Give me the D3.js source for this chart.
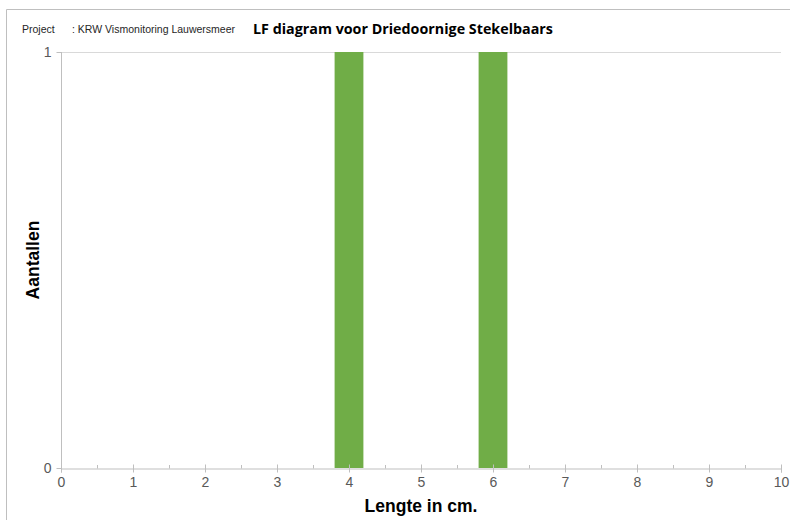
<!DOCTYPE html>
<html lang="nl">
<head>
<meta charset="UTF-8">
<title>LF diagram</title>
<script src="https://cdn.jsdelivr.net/npm/d3@7"></script>
<style>
    body { margin: 0; background: white; }
    svg { display: block; font-family: Arial, "Liberation Sans", sans-serif; }
    .tick text { fill: #595959; font-size: 14px; }
</style>
</head>
<body>
<svg id="chart" width="790" height="520"></svg>
<script>
// lengths (cm) and counts per length class
var lengths = [4, 6];
var counts = [1, 1];
var xTicks = [0, 1, 2, 3, 4, 5, 6, 7, 8, 9, 10];
var yTicks = [0, 1];

var svg = d3.select("#chart");
var plotLeft = 61, plotRight = 781, plotTop = 52, plotBottom = 468;

var x = d3.scaleLinear().domain([0, 10]).range([plotLeft, plotRight]);
var y = d3.scaleLinear().domain([0, 1]).range([plotBottom, plotTop]);
var barW = 0.4;

// outer frame (only top and left edges visible)
svg.append("path")
    .attr("d", "M6.5,520 L6.5,9.5 L790,9.5")
    .attr("fill", "none")
    .attr("stroke", "#bfbfbf")
    .attr("stroke-width", 1);

// gridline at max
svg.append("line")
    .attr("x1", plotLeft).attr("x2", plotRight)
    .attr("y1", y(1) + 0.5).attr("y2", y(1) + 0.5)
    .attr("stroke", "#d9d9d9");

// bars
svg.append("g").selectAll("rect")
    .data(lengths)
    .enter().append("rect")
    .attr("x", function(d) { return x(d - barW / 2); })
    .attr("width", function(d) { return x(d + barW / 2) - x(d - barW / 2); })
    .attr("y", function(d, i) { return y(counts[i]); })
    .attr("height", function(d, i) { return y(0) - y(counts[i]); })
    .attr("fill", "#70ad47");

// minor ticks at half units
var minor = d3.range(0.5, 10, 1);
svg.append("g").selectAll("line")
    .data(minor)
    .enter().append("line")
    .attr("x1", function(d) { return x(d) + 0.5; })
    .attr("x2", function(d) { return x(d) + 0.5; })
    .attr("y1", plotBottom - 3).attr("y2", plotBottom + 0.5)
    .attr("stroke", "#bfbfbf");

// x axis
var xAxis = svg.append("g")
    .attr("transform", "translate(0," + (plotBottom + 0.5) + ")")
    .call(d3.axisBottom(x).tickValues(xTicks).tickSize(4).tickPadding(5).tickFormat(d3.format("d")));
xAxis.select(".domain").attr("stroke", "#bfbfbf");
xAxis.selectAll(".tick line").attr("stroke", "#bfbfbf").attr("y1", -4);

// y axis
var yAxis = svg.append("g")
    .attr("transform", "translate(" + (plotLeft + 0.5) + ",0)")
    .call(d3.axisLeft(y).tickValues(yTicks).tickSize(5).tickPadding(5).tickFormat(d3.format("d")));
yAxis.select(".domain").attr("stroke", "#bfbfbf")
    .attr("d", "M0," + plotTop + "V" + (plotBottom + 4));
yAxis.selectAll(".tick line").attr("stroke", "#bfbfbf");

// header
svg.append("text").attr("x", 22).attr("y", 33)
    .attr("font-size", "10.5px").attr("fill", "#262626").text("Project");
svg.append("text").attr("x", 72).attr("y", 33)
    .attr("font-size", "10.5px").attr("fill", "#262626").text(": KRW Vismonitoring Lauwersmeer");
svg.append("text").attr("x", 253).attr("y", 34)
    .attr("font-family", "'Open Sans', 'Noto Sans', sans-serif")
    .attr("font-size", "14.3px").attr("font-weight", "bold").attr("fill", "#000")
    .text("LF diagram voor Driedoornige Stekelbaars");

// axis titles
svg.append("text")
    .attr("transform", "translate(39,260) rotate(-90)")
    .attr("text-anchor", "middle")
    .attr("font-size", "17.5px").attr("font-weight", "bold")
    .text("Aantallen");
svg.append("text")
    .attr("x", 421).attr("y", 512)
    .attr("text-anchor", "middle")
    .attr("font-size", "17.5px").attr("font-weight", "bold")
    .text("Lengte in cm.");
</script>
</body>
</html>
